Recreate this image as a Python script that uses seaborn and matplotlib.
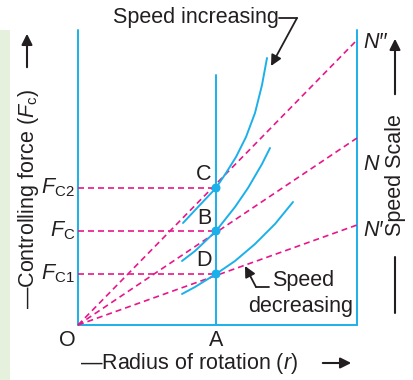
import numpy as np
import pandas as pd
import matplotlib
matplotlib.use("Agg")
import matplotlib.pyplot as plt
from matplotlib.patches import Rectangle
import seaborn as sns

# ---------------- data (radius r horizontal, controlling force Fc vertical, O = origin)
curve_top_r = [105, 120, 138, 148, 158, 168, 177, 184, 189]
curve_top_f = [102, 118, 137, 152, 168, 188, 212, 240, 267]
curve_mid_r = [104, 117, 138, 157, 170, 184, 192]
curve_mid_f = [64, 74, 94, 118, 137, 161, 177]
curve_bot_r = [104, 117, 138, 157, 177, 197, 215]
curve_bot_f = [31, 38, 51, 64, 81, 101, 123]

r_A = 138                      # radius A
point_labels = ["C", "B", "D"]
point_forces = [137, 94, 51]   # FC2, FC, FC1
force_labels = [r"$F_{\mathrm{C2}}$", r"$F_{\mathrm{C}}$", r"$F_{\mathrm{C1}}$"]

r_scale = 279                  # speed-scale position
ray_end_forces = [285, 187, 100]
speed_labels = ["N\u2032\u2032", "N", "N\u2032"]
frame_top = 295
A_top = 250

BLUE = "#1cb0ea"
MAG = "#e8168b"
INK = "#231f20"

sns.set_theme(style="white")
plt.rcParams["font.family"] = ["Liberation Sans", "DejaVu Sans"]
plt.rcParams["mathtext.fontset"] = "custom"
plt.rcParams["mathtext.rm"] = "Liberation Sans"
plt.rcParams["mathtext.it"] = "Liberation Sans:italic"
plt.rcParams["mathtext.bf"] = "Liberation Sans:bold"

fig = plt.figure(figsize=(4.13, 3.80), dpi=100)
ax = fig.add_axes([0, 0, 1, 1])
ax.set_xlim(-78, 335)
ax.set_ylim(-55, 325)
ax.set_axis_off()

FS = 15.5

# green side panel
ax.add_patch(Rectangle((-78, -55), 10, 350, facecolor="#e5f0dd", edgecolor="none", zorder=0))

# frame lines (blue)
frame = pd.DataFrame({
    "r": [0, 0, r_scale, r_scale, r_A, r_A, 0, r_scale],
    "F": [frame_top, 0, 0, frame_top, 0, A_top, 0, 0],
    "seg": [0, 0, 1, 1, 2, 2, 3, 3],
})
sns.lineplot(data=frame, x="r", y="F", units="seg", estimator=None, sort=False,
             color=BLUE, lw=1.4, ax=ax, legend=False)

# dashed rays from origin
rays = pd.DataFrame({
    "r": sum([[0, r_scale] for _ in ray_end_forces], []),
    "F": sum([[0, f] for f in ray_end_forces], []),
    "ray": sum([[i, i] for i in range(len(ray_end_forces))], []),
})
sns.lineplot(data=rays, x="r", y="F", units="ray", estimator=None, sort=False,
             color=MAG, lw=1.2, linestyle=(0, (3.6, 2.4)), ax=ax, legend=False)

# dashed horizontals
hz = pd.DataFrame({
    "r": sum([[0, r_A] for _ in point_forces], []),
    "F": sum([[f, f] for f in point_forces], []),
    "h": sum([[i, i] for i in range(len(point_forces))], []),
})
sns.lineplot(data=hz, x="r", y="F", units="h", estimator=None, sort=False,
             color=MAG, lw=1.2, linestyle=(0, (3.6, 2.4)), ax=ax, legend=False)

# controlling-force curves
curves = pd.DataFrame({
    "r": curve_top_r + curve_mid_r + curve_bot_r,
    "F": curve_top_f + curve_mid_f + curve_bot_f,
    "curve": ["top"] * len(curve_top_r) + ["mid"] * len(curve_mid_r) + ["bot"] * len(curve_bot_r),
})
sns.lineplot(data=curves, x="r", y="F", units="curve", estimator=None, sort=False,
             color=BLUE, lw=1.4, ax=ax, legend=False)

# points
sns.scatterplot(x=[r_A] * len(point_forces), y=point_forces, color=BLUE, s=42,
                edgecolor="none", zorder=6, ax=ax, legend=False)

# point labels
for lab, f in zip(point_labels, point_forces):
    ax.text(r_A - 12, f + 13, lab, fontsize=FS, color=INK, ha="center", va="center")
for lab, f in zip(force_labels, point_forces):
    ax.text(-3, f, lab, fontsize=FS, color=INK, ha="right", va="center")
for lab, f in zip(speed_labels, ray_end_forces):
    ax.text(r_scale + 6, f - 2 if f > 250 else f - 26 if f > 150 else f - 6,
            lab, fontsize=FS, color=INK, ha="left", va="center", style="italic")

ax.text(-11, -15, "O", fontsize=FS, color=INK, ha="center", va="center")
ax.text(r_A, -16, "A", fontsize=FS, color=INK, ha="center", va="center")

# axis titles
ax.text(2, -38, r"—Radius of rotation ($r$)", fontsize=FS, color=INK, ha="left", va="center")
ax.annotate("", xy=(276, -38), xytext=(242, -38),
            arrowprops=dict(arrowstyle="-|>", color=INK, lw=1.5, mutation_scale=16))
ax.text(-49, 126, r"—Controlling force ($F_{\mathrm{c}}$)", fontsize=FS, color=INK,
        ha="center", va="center", rotation=90)
ax.annotate("", xy=(-51, 294), xytext=(-51, 255),
            arrowprops=dict(arrowstyle="-|>", color=INK, lw=1.5, mutation_scale=16))

# speed scale
ax.text(317, 150, "Speed Scale", fontsize=FS, color=INK, ha="center", va="center", rotation=90)
ax.annotate("", xy=(317, 289), xytext=(317, 228),
            arrowprops=dict(arrowstyle="-|>", color=INK, lw=1.5, mutation_scale=16))
ax.plot([317, 317], [12, 68], color=INK, lw=1.5)

# speed increasing
ax.text(35, 307, "Speed increasing", fontsize=FS, color=INK, ha="left", va="center")
ax.plot([201, 219], [307, 307], color=INK, lw=1.3)
ax.annotate("", xy=(193, 259), xytext=(219, 307),
            arrowprops=dict(arrowstyle="-|>", color=INK, lw=1.3, mutation_scale=16,
                            shrinkA=0, shrinkB=0))

# speed decreasing
ax.text(194, 39, "Speed", fontsize=FS, color=INK, ha="left", va="baseline")
ax.text(170, 13, "decreasing", fontsize=FS, color=INK, ha="left", va="baseline")
ax.plot([178, 191], [38, 38], color=INK, lw=1.3)
ax.annotate("", xy=(167, 59), xytext=(178, 38),
            arrowprops=dict(arrowstyle="-|>", color=INK, lw=1.3, mutation_scale=16,
                            shrinkA=0, shrinkB=0))

fig.savefig("out.png", dpi=100)
